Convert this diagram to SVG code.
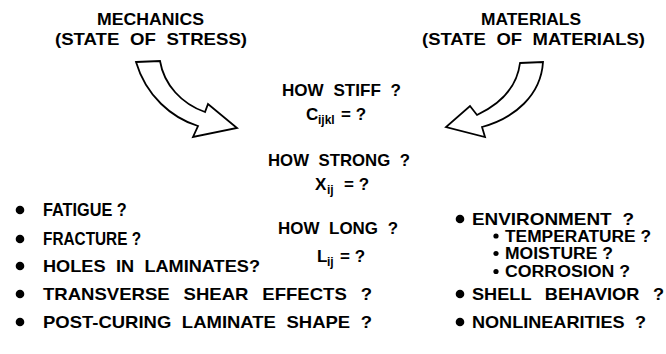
<svg xmlns="http://www.w3.org/2000/svg" width="666" height="354" viewBox="0 0 666 354">
<style>
text{font-family:"Liberation Sans",Arial,Helvetica,sans-serif;font-weight:bold;font-size:17px;fill:#000}
.sub{font-size:12px}
.sm{font-size:16px}
.lg{font-size:18.5px}
.ws{word-spacing:5px}
.ws2{word-spacing:8px}
.arrow{fill:#fff;stroke:#000;stroke-width:1.8;stroke-linejoin:miter}
.dot{fill:#000}
</style>
<rect width="666" height="354" fill="#fff"/>
<g id="mechanics">
<text x="97" y="25" textLength="107" lengthAdjust="spacingAndGlyphs">MECHANICS</text>
<text class="ws" x="55" y="45" textLength="192" lengthAdjust="spacingAndGlyphs">(STATE OF STRESS)</text>
</g>
<g id="materials">
<text x="481" y="25" textLength="100" lengthAdjust="spacingAndGlyphs">MATERIALS</text>
<text class="ws" x="422" y="45" textLength="223" lengthAdjust="spacingAndGlyphs">(STATE OF MATERIALS)</text>
</g>
<g id="connectors">
<path class="arrow" d="M136,62 L160,61 C164,85 182,104 205,112 L208,104 L237,128 L193,137 L198,126 C172,118 146,96 136,62 Z"/>
<path class="arrow" d="M520,63 L543,62 C541,95 515,118 482,127 L485,137 L446,127 L470,106 L477,115 C500,104 517,88 520,63 Z"/>
</g>
<g id="stiff">
<text class="ws" x="282" y="96" textLength="119" lengthAdjust="spacingAndGlyphs">HOW STIFF ?</text>
<text x="306" y="120">C<tspan class="sub" x="318" dy="3.5">ijkl</tspan><tspan x="341" dy="-3.5">= ?</tspan></text>
</g>
<g id="strong">
<text class="ws" x="268" y="166" textLength="142" lengthAdjust="spacingAndGlyphs">HOW STRONG ?</text>
<text x="315" y="190">X<tspan class="sub" x="327" dy="3.5">ij</tspan><tspan x="344" dy="-3.5">= ?</tspan></text>
</g>
<g id="long">
<text class="ws" x="278" y="234" textLength="120" lengthAdjust="spacingAndGlyphs">HOW LONG ?</text>
<text x="317" y="262">L<tspan class="sub" x="327" dy="3.5">ij</tspan><tspan x="340" dy="-3.5">= ?</tspan></text>
</g>
<g id="left-list">
<circle class="dot" cx="20" cy="210" r="4.3"/>
<text class="lg" transform="translate(43,216) scale(0.88,1)">FATIGUE ?</text>
<circle class="dot" cx="20" cy="239" r="4.3"/>
<text class="lg" transform="translate(43,245) scale(0.83,1)">FRACTURE ?</text>
<circle class="dot" cx="20" cy="266" r="4.3"/>
<text class="ws" x="43" y="272" textLength="217" lengthAdjust="spacingAndGlyphs">HOLES IN LAMINATES?</text>
<circle class="dot" cx="20" cy="294" r="4.3"/>
<text class="ws2" x="43" y="300" textLength="329" lengthAdjust="spacingAndGlyphs">TRANSVERSE SHEAR EFFECTS ?</text>
<circle class="dot" cx="20" cy="322" r="4.3"/>
<text class="ws" x="43" y="328" textLength="329" lengthAdjust="spacingAndGlyphs">POST-CURING LAMINATE SHAPE ?</text>
</g>
<g id="right-list">
<circle class="dot" cx="460" cy="219" r="4.3"/>
<text class="ws" x="472" y="225" textLength="162" lengthAdjust="spacingAndGlyphs">ENVIRONMENT ?</text>
<circle class="dot" cx="496" cy="236" r="2.6"/>
<text class="sm" x="505" y="241.5" textLength="146" lengthAdjust="spacingAndGlyphs">TEMPERATURE ?</text>
<circle class="dot" cx="496" cy="253.5" r="2.6"/>
<text class="sm" x="505" y="259" textLength="108" lengthAdjust="spacingAndGlyphs">MOISTURE ?</text>
<circle class="dot" cx="496" cy="271.5" r="2.6"/>
<text class="sm" x="505" y="277" textLength="125" lengthAdjust="spacingAndGlyphs">CORROSION ?</text>
<circle class="dot" cx="460" cy="294" r="4.3"/>
<text class="ws2" x="472" y="300" textLength="192" lengthAdjust="spacingAndGlyphs">SHELL BEHAVIOR ?</text>
<circle class="dot" cx="460" cy="322" r="4.3"/>
<text class="ws" x="472" y="328" textLength="174" lengthAdjust="spacingAndGlyphs">NONLINEARITIES ?</text>
</g>
</svg>
